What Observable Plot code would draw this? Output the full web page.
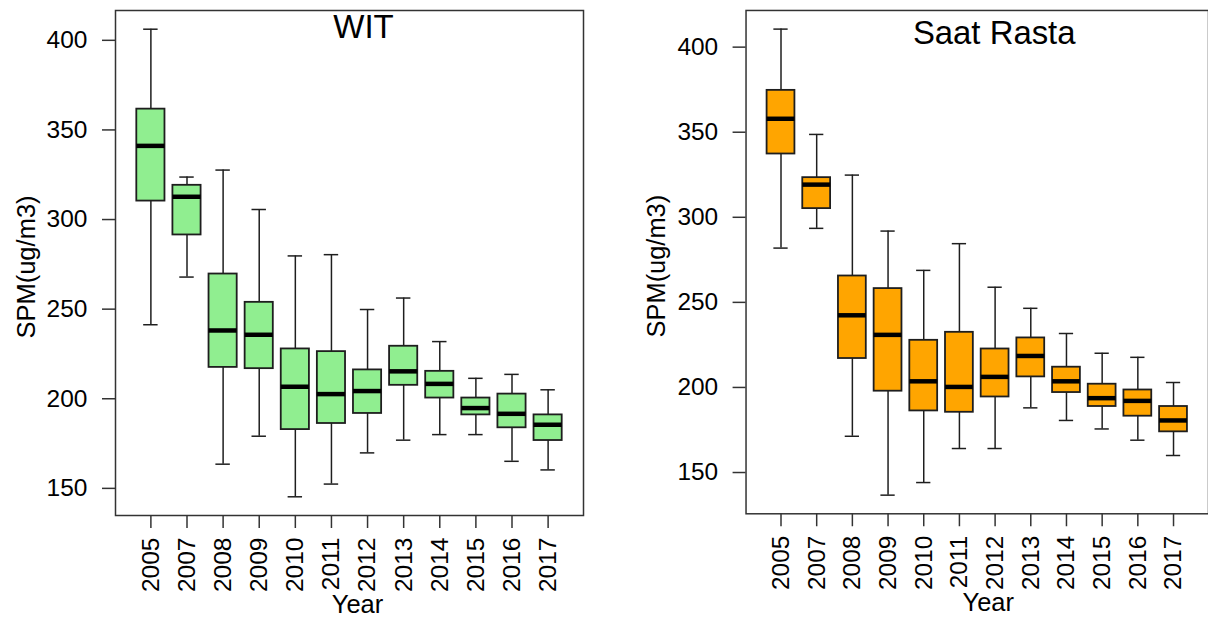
<!DOCTYPE html>
<html>
<head>
<meta charset="utf-8">
<script src="https://cdn.jsdelivr.net/npm/d3@7"></script>
<script src="https://cdn.jsdelivr.net/npm/@observablehq/plot@0.6"></script>
<style>
  html, body { margin: 0; padding: 0; background: #fff; }
  body { width: 1208px; height: 621px; overflow: hidden; position: relative;
         font-family: "Liberation Sans", Arial, sans-serif; }
  #wit  { position: absolute; left: 0; top: 0; }
  #saat { position: absolute; left: 604px; top: 0; }
</style>
</head>
<body>
<div id="wit"></div>
<div id="saat"></div>
<script>
// Years on the category axis
const years = ["2005", "2007", "2008", "2009", "2010", "2011", "2012", "2013", "2014", "2015", "2016", "2017"];
const yTicks = [150, 200, 250, 300, 350, 400];

// WIT station: five-number summaries of SPM (ug/m3)
const witMin    = [241.3, 267.9, 163.5, 179.1, 145.3, 152.4, 169.8, 176.9, 180.0, 180.0, 165.1, 160.3];
const witQ1     = [310.3, 291.4, 217.5, 216.8, 182.8, 186.2, 191.8, 207.5, 200.4, 191.0, 183.8, 176.7];
const witMedian = [341.1, 312.7, 238.1, 235.7, 206.7, 202.6, 204.3, 215.3, 208.3, 194.8, 191.6, 185.5];
const witQ3     = [361.6, 319.1, 269.6, 253.8, 227.8, 226.3, 216.1, 229.3, 215.3, 200.4, 202.6, 191.0];
const witMax    = [406.2, 323.7, 327.6, 305.6, 279.7, 280.4, 249.8, 256.2, 231.9, 211.4, 213.6, 205.0];

// Saat Rasta station: five-number summaries of SPM (ug/m3)
const saatMin    = [281.9, 293.5, 171.3, 136.7, 144.1, 164.1, 164.1, 188.0, 180.6, 175.6, 169.0, 160.0];
const saatQ1     = [337.2, 305.1, 217.0, 197.8, 186.2, 185.4, 194.4, 206.2, 197.0, 188.8, 183.1, 173.9];
const saatMedian = [357.9, 319.2, 242.4, 230.9, 203.6, 200.3, 206.2, 218.5, 203.6, 193.7, 192.1, 180.6];
const saatQ3     = [374.6, 323.3, 265.5, 258.1, 227.7, 232.4, 222.6, 229.1, 211.9, 201.9, 198.5, 188.8];
const saatMax    = [410.6, 348.7, 324.8, 291.9, 268.8, 284.5, 258.9, 246.5, 231.7, 220.1, 217.7, 202.9];

function rows(mins, q1s, meds, q3s, maxs) {
  return years.map((year, k) => ({
    pos: k + 1, year,
    min: mins[k], q1: q1s[k], med: meds[k], q3: q3s[k], max: maxs[k]
  }));
}

// Base-graphics style range: data extent padded by 4% on each side
function padded(lo, hi) {
  const p = (hi - lo) * 0.04;
  return [lo - p, hi + p];
}

const HALF_BOX = 0.39;   // half box width, in category units
const HALF_CAP = 0.2;    // half whisker-cap width
const INK = "#1e1e1e";

function panel({data, fill, title, width, marginLeft, marginRight, titleDx, titleDy, yearDx}) {
  const n = years.length;
  const yDomain = padded(d3.min(data, d => d.min), d3.max(data, d => d.max));
  return Plot.plot({
    width, height: 621,
    marginTop: 10, marginBottom: 106, marginLeft, marginRight,
    style: {fontFamily: "'Liberation Sans', Arial, sans-serif", color: "#000", background: "transparent"},
    x: {type: "linear", domain: padded(0.5, n + 0.5)},
    y: {type: "linear", domain: yDomain},
    marks: [
      // whiskers
      Plot.ruleX(data, {x: "pos", y1: "min", y2: "q1", stroke: INK, strokeWidth: 1.5}),
      Plot.ruleX(data, {x: "pos", y1: "q3", y2: "max", stroke: INK, strokeWidth: 1.5}),
      // whisker caps
      Plot.ruleY(data, {y: "min", x1: d => d.pos - HALF_CAP, x2: d => d.pos + HALF_CAP, stroke: INK, strokeWidth: 1.5}),
      Plot.ruleY(data, {y: "max", x1: d => d.pos - HALF_CAP, x2: d => d.pos + HALF_CAP, stroke: INK, strokeWidth: 1.5}),
      // interquartile boxes
      Plot.rect(data, {x1: d => d.pos - HALF_BOX, x2: d => d.pos + HALF_BOX, y1: "q1", y2: "q3",
                       fill, stroke: INK, strokeWidth: 1.8}),
      // medians
      Plot.ruleY(data, {y: "med", x1: d => d.pos - HALF_BOX, x2: d => d.pos + HALF_BOX,
                        stroke: "#000", strokeWidth: 4.5}),
      Plot.frame({stroke: "#333", strokeWidth: 1.5}),
      Plot.axisY({ticks: yTicks, tickSize: 13, tickPadding: 15, fontSize: 24.5,
                  label: null, stroke: "#333", strokeWidth: 1.5}),
      Plot.axisX({ticks: d3.range(1, n + 1), tickFormat: i => years[i - 1], tickRotate: -90,
                  tickSize: 13, tickPadding: 9, fontSize: 24.5, label: null, stroke: "#333", strokeWidth: 1.5}),
      // panel title
      Plot.text([title], {frameAnchor: "top", lineAnchor: "top", dx: titleDx, dy: titleDy,
                          fontSize: 33, fill: "#000"}),
      // axis titles
      Plot.text(["SPM(ug/m3)"], {frameAnchor: "left", textAnchor: "middle", lineAnchor: "middle",
                                 rotate: -90, dx: -89, dy: 4, fontSize: 25.5, fill: "#000"}),
      Plot.text(["Year"], {frameAnchor: "bottom", lineAnchor: "top", dx: yearDx, dy: 79,
                           fontSize: 25.5, fill: "#000"})
    ]
  });
}

document.getElementById("wit").append(panel({
  data: rows(witMin, witQ1, witMedian, witQ3, witMax),
  fill: "#90EE90", title: "WIT",
  width: 604, marginLeft: 115, marginRight: 21,
  titleDx: 14, titleDy: 4, yearDx: 8
}));

document.getElementById("saat").append(panel({
  data: rows(saatMin, saatQ1, saatMedian, saatQ3, saatMax),
  fill: "#FFA500", title: "Saat Rasta",
  width: 606, marginLeft: 142, marginRight: 0,
  titleDx: 17, titleDy: 10, yearDx: 11
}));
</script>
</body>
</html>
